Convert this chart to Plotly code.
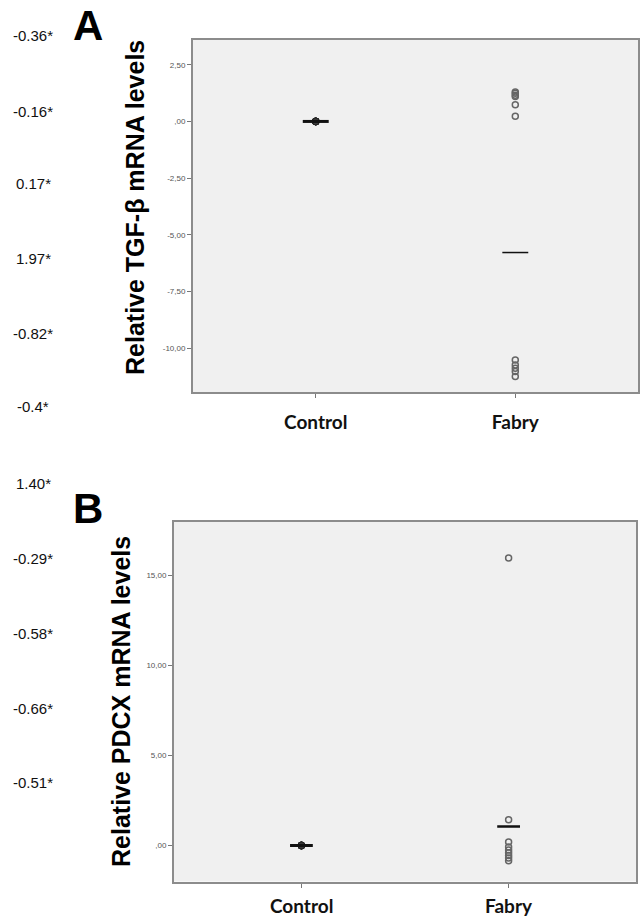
import plotly.graph_objects as go

# ---- data ----
categories = ["Control", "Fabry"]
side_labels = ["-0.36*", "-0.16*", "0.17*", "1.97*", "-0.82*", "-0.4*",
               "1.40*", "-0.29*", "-0.58*", "-0.66*", "-0.51*"]

tgf_control = [0.0, 0.0, 0.0, 0.0, 0.0]
tgf_fabry = [1.30, 1.24, 1.16, 1.10, 0.74, 0.23,
             -10.52, -10.74, -10.88, -11.03, -11.25]
tgf_medians = [0.0, -5.78]

pdcx_control = [0.0, 0.0, 0.0, 0.0, 0.0]
pdcx_fabry = [15.95, 1.43, 0.20, -0.08, -0.25, -0.40, -0.55, -0.70, -0.85]
pdcx_medians = [0.0, 1.05]

tgf_ticks = [2.5, 0.0, -2.5, -5.0, -7.5, -10.0]
tgf_ticktext = ["2,50", ",00", "-2,50", "-5,00", "-7,50", "-10,00"]
pdcx_ticks = [15.0, 10.0, 5.0, 0.0]
pdcx_ticktext = ["15,00", "10,00", "5,00", ",00"]

FONT = "Arial, Liberation Sans, sans-serif"
XFONT = "Lato, Open Sans, sans-serif"
fig = go.Figure()

def add_panel(xa, ya, ctrl, fab, meds, med_half, ctrl_w, fab_w):
    fig.add_trace(go.Scatter(x=[0] * len(ctrl), y=ctrl, mode="markers",
                             xaxis=xa, yaxis=ya, showlegend=False,
                             marker=dict(symbol="circle", size=7, color="#3a3a3a",
                                         line=dict(color="#222", width=1))))
    fig.add_trace(go.Scatter(x=[1] * len(fab), y=fab, mode="markers",
                             xaxis=xa, yaxis=ya, showlegend=False,
                             marker=dict(symbol="circle-open", size=6, color="#666",
                                         line=dict(width=1.5))))
    for i, (m, w) in enumerate(zip(meds, [ctrl_w, fab_w])):
        fig.add_trace(go.Scatter(x=[i - med_half, i + med_half], y=[m, m], mode="lines",
                                 xaxis=xa, yaxis=ya, showlegend=False,
                                 line=dict(color="#111", width=w)))

add_panel("x", "y", tgf_control, tgf_fabry, tgf_medians, 0.065, 3, 1.5)
add_panel("x2", "y2", pdcx_control, pdcx_fabry, pdcx_medians, 0.055, 3, 2.5)

common_x = dict(tickmode="array", tickvals=[0, 1],
                ticktext=["<b>%s</b>" % c for c in categories],
                range=[-0.615, 1.615], showgrid=False, zeroline=False,
                showline=True, mirror=True, linecolor="#8c8c8c", linewidth=2,
                ticks="outside", ticklen=4, tickcolor="#777",
                tickfont=dict(family=XFONT, size=19, color="#111"))
common_y = dict(tickmode="array", showgrid=False, zeroline=False,
                showline=True, mirror=True, linecolor="#8c8c8c", linewidth=2,
                ticks="outside", ticklen=4, tickcolor="#777",
                tickfont=dict(family=FONT, size=8, color="#555"))

fig.update_layout(
    width=640, height=920, margin=dict(l=0, r=0, t=0, b=0),
    paper_bgcolor="white", plot_bgcolor="#f0f0f0", showlegend=False,
    xaxis=dict(domain=[0.3016, 0.9969], anchor="y", ticklabelstandoff=8, **common_x),
    yaxis=dict(domain=[0.5739, 0.9565], anchor="x", range=[-11.93, 3.59],
               tickvals=tgf_ticks, ticktext=tgf_ticktext, **common_y),
    xaxis2=dict(domain=[0.2719, 0.9938], anchor="y2", showticklabels=False, **common_x),
    yaxis2=dict(domain=[0.0418, 0.4329], anchor="x2", range=[-2.0, 17.96],
                tickvals=pdcx_ticks, ticktext=pdcx_ticktext, **common_y),
)

ann = []
side_y = [35, 111, 184, 258, 333, 407, 483, 558, 633, 708, 782]
for lab, yp in zip(side_labels, side_y):
    ann.append(dict(text=lab, x=33 / 640, y=1 - yp / 920, xref="paper", yref="paper",
                    showarrow=False, xanchor="center", yanchor="middle",
                    font=dict(family=FONT, size=15, color="#111")))
# category labels for panel B, placed on the x2 axis scale
for i, c in enumerate(categories):
    ann.append(dict(text="<b>%s</b>" % c, x=i, xref="x2", y=1 - 905 / 920, yref="paper",
                    showarrow=False, xanchor="center", yanchor="middle",
                    font=dict(family=XFONT, size=19, color="#111")))
ann.append(dict(text="<b>A</b>", x=88 / 640, y=1 - 25 / 920, xref="paper", yref="paper",
                showarrow=False, xanchor="center", yanchor="middle",
                font=dict(family=FONT, size=42, color="#000")))
ann.append(dict(text="<b>B</b>", x=88 / 640, y=1 - 508 / 920, xref="paper", yref="paper",
                showarrow=False, xanchor="center", yanchor="middle",
                font=dict(family=FONT, size=42, color="#000")))
ann.append(dict(text="<b>Relative TGF-β mRNA levels</b>", x=135 / 640, y=1 - 208 / 920,
                xref="paper", yref="paper", showarrow=False, textangle=-90,
                xanchor="center", yanchor="middle",
                font=dict(family=FONT, size=25, color="#000")))
ann.append(dict(text="<b>Relative PDCX mRNA levels</b>", x=121 / 640, y=1 - 702 / 920,
                xref="paper", yref="paper", showarrow=False, textangle=-90,
                xanchor="center", yanchor="middle",
                font=dict(family=FONT, size=25, color="#000")))
fig.update_layout(annotations=ann)

fig.write_html("out.html", config={"displayModeBar": False},
               post_script="document.body.style.margin='0';document.body.style.overflow='hidden';")
